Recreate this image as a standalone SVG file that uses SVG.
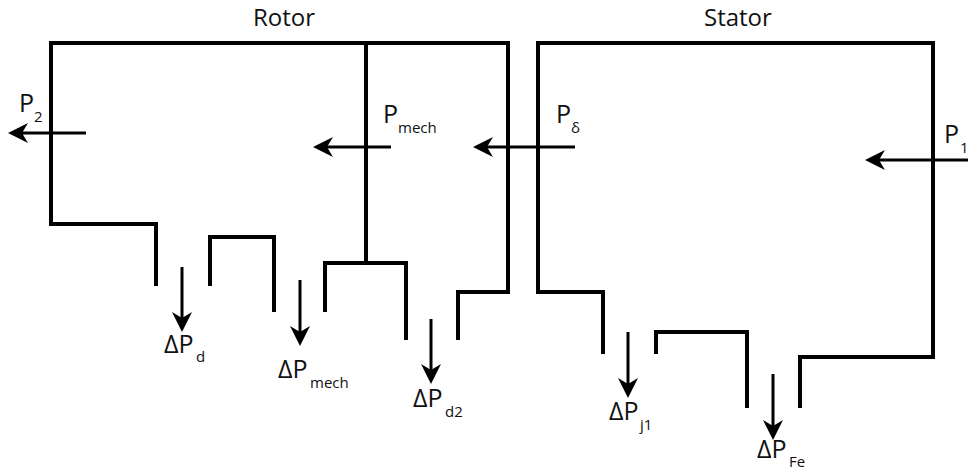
<svg xmlns="http://www.w3.org/2000/svg" width="971" height="472" viewBox="0 0 971 472">
<style>
.w{fill:none;stroke:#000;stroke-width:4;stroke-linejoin:miter;stroke-linecap:butt}
.a{fill:none;stroke:#000;stroke-width:3;marker-end:url(#ah)}
text{font-family:"Open Sans","Noto Sans",sans-serif;fill:#111}
.t{font-size:25px}
.h{font-size:24px}
.s{font-size:15px}
</style>
<defs>
<marker id="ah" markerUnits="userSpaceOnUse" markerWidth="22" markerHeight="22" refX="6" refY="10" orient="auto" overflow="visible">
<path d="M0,0 L20,10 L0,20 L6,10 Z" fill="#000"/>
</marker>
</defs>
<rect width="971" height="472" fill="#fff"/>
<g id="rotor">
<path class="w" d="M156,286 L156,224 L51,224 L51,43 L508,43 L508,292 L458,292 L458,340"/>
<path class="w" d="M366,43 L366,263"/>
<path class="w" d="M325,312 L325,263 L406,263 L406,340"/>
<path class="w" d="M210,286 L210,237 L274,237 L274,312"/>
<text class="h" x="253" y="26">Rotor</text>
</g>
<g id="stator">
<path class="w" d="M603,354 L603,292 L538,292 L538,43 L933,43 L933,357 L800,357 L800,408"/>
<path class="w" d="M656,354 L656,332 L747,332 L747,408"/>
<text class="h" x="704" y="26">Stator</text>
</g>
<g id="connectors">
<line class="a" x1="968" y1="160" x2="879" y2="160"/>
<line class="a" x1="575" y1="147" x2="487" y2="147"/>
<line class="a" x1="391" y1="147" x2="327" y2="147"/>
<line class="a" x1="86" y1="133" x2="22" y2="133"/>
<line class="a" x1="182" y1="267" x2="182" y2="318"/>
<line class="a" x1="300" y1="280" x2="300" y2="332"/>
<line class="a" x1="431" y1="319" x2="431" y2="370"/>
<line class="a" x1="628" y1="332" x2="628" y2="384"/>
<line class="a" x1="773" y1="374" x2="773" y2="426"/>
</g>
<g id="labels">
<text><tspan class="t" x="19" y="112">P</tspan><tspan class="s" x="34" y="122">2</tspan></text>
<text><tspan class="t" x="383" y="123">P</tspan><tspan class="s" x="398" y="133">mech</tspan></text>
<text><tspan class="t" x="556" y="123">P</tspan><tspan class="s" x="571" y="133">δ</tspan></text>
<text><tspan class="t" x="944" y="143">P</tspan><tspan class="s" x="960" y="153">1</tspan></text>
<text><tspan class="t" x="164" y="353">ΔP</tspan><tspan class="s" x="196" y="362">d</tspan></text>
<text><tspan class="t" x="278" y="378">ΔP</tspan><tspan class="s" x="310" y="388">mech</tspan></text>
<text><tspan class="t" x="413" y="407">ΔP</tspan><tspan class="s" x="445" y="417">d2</tspan></text>
<text><tspan class="t" x="609" y="420">ΔP</tspan><tspan class="s" x="640" y="430">j1</tspan></text>
<text><tspan class="t" x="757" y="458">ΔP</tspan><tspan class="s" x="789" y="467">Fe</tspan></text>
</g>
</svg>
